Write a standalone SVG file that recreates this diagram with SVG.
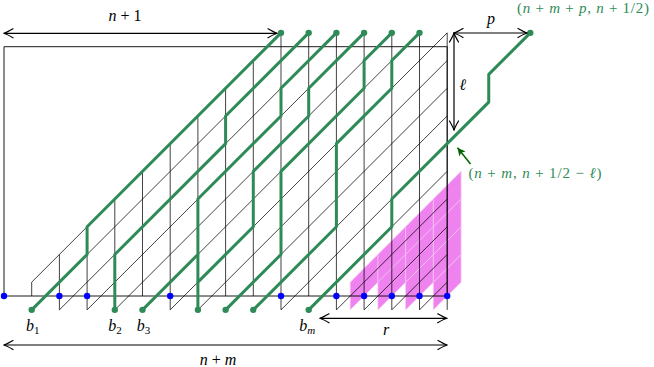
<svg xmlns="http://www.w3.org/2000/svg" width="654" height="367" viewBox="0 0 654 367">
<style>
.u line, .u path, .u polyline, .u polygon, .u rect { vector-effect: non-scaling-stroke; }
.lat { stroke: #000; stroke-width: 0.75; fill: none; }
.mag { fill: #EE82EE; stroke: #F6C4F6; stroke-width: 0.7; }
.gp { stroke: #2E8B57; stroke-width: 3; fill: none; stroke-linejoin: round; }
.gd { fill: #2E8B57; }
.bd { fill: #0000FF; }
.frame { stroke: #000; stroke-width: 0.9; fill: none; }
.arr { stroke: #000; stroke-width: 1.2; fill: none; marker-start: url(#ah); marker-end: url(#ah); }
.lbl { font-family: "Liberation Serif", "DejaVu Serif", serif; font-size: 16px; fill: #000; }
.glbl { font-family: "Liberation Serif", "DejaVu Serif", serif; font-size: 15px; fill: #2E8B57; }
.it { font-style: italic; }
.sub { font-size: 11px; }
</style>
<defs>
<marker id="ah" viewBox="-11 -6 12 12" refX="0" refY="0" markerWidth="12" markerHeight="12" markerUnits="userSpaceOnUse" orient="auto-start-reverse">
<path d="M-9,-4.5 Q-3,-1 0,0 Q-3,1 -9,4.5" fill="none" stroke="#000" stroke-width="1.2" stroke-linecap="round"/>
</marker>
<marker id="gah" viewBox="-9 -5 10 10" refX="0" refY="0" markerWidth="10" markerHeight="10" markerUnits="userSpaceOnUse" orient="auto">
<path d="M-8,-4 L0,0 L-8,4 L-6,0 Z" fill="#006400"/>
</marker>
</defs>

<g id="lattice-area" class="u" transform="translate(4,296) scale(27.7,-27.7)">
  <g id="magenta">
    <polygon class="mag" points="12.5,-0.5 13.5,0.5 13.5,1.5 12.5,0.5"/>
    <polygon class="mag" points="13.5,-0.5 14.5,0.5 14.5,1.5 13.5,0.5"/>
    <polygon class="mag" points="13.5,0.5 14.5,1.5 14.5,2.5 13.5,1.5"/>
    <polygon class="mag" points="14.5,-0.5 15.5,0.5 15.5,1.5 14.5,0.5"/>
    <polygon class="mag" points="14.5,0.5 15.5,1.5 15.5,2.5 14.5,1.5"/>
    <polygon class="mag" points="14.5,1.5 15.5,2.5 15.5,3.5 14.5,2.5"/>
    <polygon class="mag" points="15.5,-0.5 16.5,0.5 16.5,1.5 15.5,0.5"/>
    <polygon class="mag" points="15.5,0.5 16.5,1.5 16.5,2.5 15.5,1.5"/>
    <polygon class="mag" points="15.5,1.5 16.5,2.5 16.5,3.5 15.5,2.5"/>
    <polygon class="mag" points="15.5,2.5 16.5,3.5 16.5,4.5 15.5,3.5"/>
  </g>
  <g id="grid" class="lat">
    <line x1="1" y1="0" x2="1" y2="0.5"/>
    <line x1="2" y1="-0.5" x2="2" y2="1.5"/>
    <line x1="3" y1="-0.5" x2="3" y2="2.5"/>
    <line x1="4" y1="-0.5" x2="4" y2="3.5"/>
    <line x1="5" y1="0" x2="5" y2="4.5"/>
    <line x1="6" y1="-0.5" x2="6" y2="5.5"/>
    <line x1="7" y1="-0.5" x2="7" y2="6.5"/>
    <line x1="8" y1="0" x2="8" y2="7.5"/>
    <line x1="9" y1="0" x2="9" y2="8.5"/>
    <line x1="10" y1="-0.5" x2="10" y2="9.5"/>
    <line x1="11" y1="0" x2="11" y2="9.5"/>
    <line x1="12" y1="-0.5" x2="12" y2="9.5"/>
    <line x1="13" y1="-0.5" x2="13" y2="9.5"/>
    <line x1="14" y1="-0.5" x2="14" y2="9.5"/>
    <line x1="15" y1="-0.5" x2="15" y2="9.5"/>
    <line x1="16" y1="-0.5" x2="16" y2="9.5"/>
    <line x1="1" y1="0.5" x2="10" y2="9.5"/>
    <line x1="1" y1="-0.5" x2="11" y2="9.5"/>
    <line x1="2" y1="-0.5" x2="12" y2="9.5"/>
    <line x1="3" y1="-0.5" x2="13" y2="9.5"/>
    <line x1="4" y1="-0.5" x2="14" y2="9.5"/>
    <line x1="5" y1="-0.5" x2="15" y2="9.5"/>
    <line x1="6" y1="-0.5" x2="16" y2="9.5"/>
    <line x1="7" y1="-0.5" x2="16" y2="8.5"/>
    <line x1="8" y1="-0.5" x2="16" y2="7.5"/>
    <line x1="9" y1="-0.5" x2="16" y2="6.5"/>
    <line x1="10" y1="-0.5" x2="16" y2="5.5"/>
    <line x1="11" y1="-0.5" x2="16" y2="4.5"/>
    <line x1="12" y1="-0.5" x2="16" y2="3.5"/>
    <line x1="13" y1="-0.5" x2="16" y2="2.5"/>
    <line x1="14" y1="-0.5" x2="16" y2="1.5"/>
    <line x1="15" y1="-0.5" x2="16" y2="0.5"/>
  </g>
  <g id="frame">
    <rect class="frame" x="0" y="0" width="16" height="9"/>
  </g>
  <g id="paths" class="gp">
    <path id="path1" d="M1,-0.5 L3,1.5 L3,2.5 L10,9.5"/>
    <path id="path2" d="M4,-0.5 L4,1.5 L8,5.5 L8,6.5 L11,9.5"/>
    <path id="path3" d="M5,-0.5 L7,1.5 L7,3.5 L10,6.5 L10,7.5 L12,9.5"/>
    <path id="path4" d="M7,-0.5 L7,0.5 L9,2.5 L9,4.5 L11,6.5 L11,7.5 L13,9.5"/>
    <path d="M7,0.5 L7,1.5"/>
    <path id="path5" d="M8,-0.5 L10,1.5 L10,4.5 L13,7.5 L13,8.5 L14,9.5"/>
    <path id="path6" d="M9,-0.5 L12,2.5 L12,5.5 L14,7.5 L14,8.5 L15,9.5"/>
    <path id="path7" d="M11,-0.5 L14,2.5 L14,3.5 L16,5.5 L17.5,7 L17.5,8 L19,9.5"/>
  </g>
  <g id="green-dots" class="gd">
    <circle cx="1" cy="-0.5" r="0.115"/>
    <circle cx="4" cy="-0.5" r="0.115"/>
    <circle cx="5" cy="-0.5" r="0.115"/>
    <circle cx="7" cy="-0.5" r="0.115"/>
    <circle cx="8" cy="-0.5" r="0.115"/>
    <circle cx="9" cy="-0.5" r="0.115"/>
    <circle cx="11" cy="-0.5" r="0.115"/>
    <circle cx="10" cy="9.5" r="0.115"/>
    <circle cx="11" cy="9.5" r="0.115"/>
    <circle cx="12" cy="9.5" r="0.115"/>
    <circle cx="13" cy="9.5" r="0.115"/>
    <circle cx="14" cy="9.5" r="0.115"/>
    <circle cx="15" cy="9.5" r="0.115"/>
    <circle cx="19" cy="9.5" r="0.115"/>
  </g>
  <g id="blue-dots" class="bd">
    <circle cx="0" cy="0" r="0.115"/>
    <circle cx="2" cy="0" r="0.115"/>
    <circle cx="3" cy="0" r="0.115"/>
    <circle cx="6" cy="0" r="0.115"/>
    <circle cx="10" cy="0" r="0.115"/>
    <circle cx="12" cy="0" r="0.115"/>
    <circle cx="13" cy="0" r="0.115"/>
    <circle cx="14" cy="0" r="0.115"/>
    <circle cx="15" cy="0" r="0.115"/>
    <circle cx="16" cy="0" r="0.115"/>
  </g>
</g>

<g id="connectors">
  <line class="arr" x1="4" y1="33.3" x2="277" y2="33.3"/>
  <line class="arr" x1="454" y1="33" x2="527" y2="33"/>
  <line class="arr" x1="454" y1="33" x2="454" y2="130"/>
  <line class="arr" x1="320" y1="318.3" x2="446.7" y2="318.3"/>
  <line class="arr" x1="4" y1="345" x2="447" y2="345"/>
  <line x1="470.5" y1="164" x2="457.5" y2="147.7" stroke="#006400" stroke-width="1.5" marker-end="url(#gah)"/>
</g>

<g id="labels">
  <text class="lbl" x="125" y="20.5" text-anchor="middle"><tspan class="it">n</tspan> + 1</text>
  <text class="lbl it" x="491" y="24" text-anchor="middle">p</text>
  <text class="lbl it" x="462.5" y="89.5" text-anchor="middle">ℓ</text>
  <text class="glbl" x="517" y="12.5" textLength="132" lengthAdjust="spacing">(<tspan class="it">n</tspan> + <tspan class="it">m</tspan> + <tspan class="it">p</tspan>, <tspan class="it">n</tspan> + 1/2)</text>
  <text class="glbl" x="468.5" y="178" textLength="133" lengthAdjust="spacing">(<tspan class="it">n</tspan> + <tspan class="it">m</tspan>, <tspan class="it">n</tspan> + 1/2 − <tspan class="it">ℓ</tspan>)</text>
  <text class="lbl" x="26" y="331"><tspan class="it">b</tspan><tspan class="sub" dy="3">1</tspan></text>
  <text class="lbl" x="108.3" y="331"><tspan class="it">b</tspan><tspan class="sub" dy="3">2</tspan></text>
  <text class="lbl" x="136.7" y="331"><tspan class="it">b</tspan><tspan class="sub" dy="3">3</tspan></text>
  <text class="lbl" x="299.3" y="331"><tspan class="it">b</tspan><tspan class="sub it" dy="3">m</tspan></text>
  <text class="lbl it" x="386" y="335" text-anchor="middle">r</text>
  <text class="lbl" x="218" y="365" text-anchor="middle"><tspan class="it">n</tspan> + <tspan class="it">m</tspan></text>
</g>
</svg>
